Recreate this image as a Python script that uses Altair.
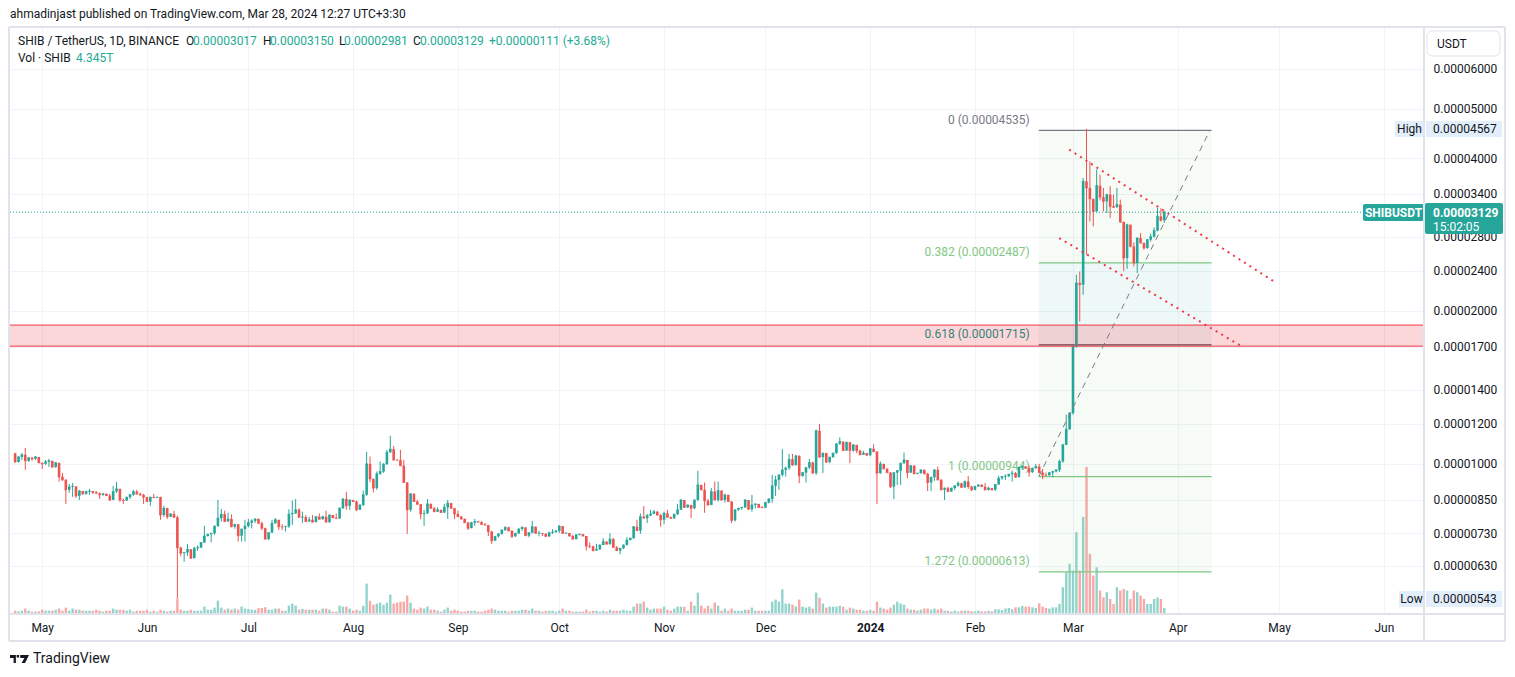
import altair as alt
import pandas as pd

# ---------------- data (prices in units of 1e-8 USDT, volume in T) ----------------
UNIT = 1e-8
START_DATE = "2023-04-23"
FIRST_OPEN = 1049

CLOSE = [
    1009, 1032, 1042, 1014, 1028, 1023, 1032, 1005, 1000, 1009,
    1014, 986, 1005, 943, 930, 889, 901, 903, 865, 884,
    873, 882, 884, 878, 875, 869, 873, 866, 849, 882,
    893, 849, 847, 860, 869, 882, 873, 869, 860, 843,
    860, 858, 860, 793, 818, 787, 797, 785, 684, 667,
    669, 679, 652, 682, 684, 700, 721, 727, 730, 754,
    782, 796, 770, 779, 752, 760, 722, 744, 754, 766,
    772, 779, 764, 747, 711, 732, 764, 776, 752, 751,
    753, 796, 799, 812, 785, 786, 770, 776, 768, 787,
    778, 787, 768, 793, 783, 781, 818, 853, 827, 849,
    843, 812, 830, 869, 1000, 934, 896, 956, 966, 999,
    1054, 1069, 1018, 1017, 992, 919, 812, 873, 843, 833,
    797, 799, 834, 818, 805, 812, 802, 821, 837, 818,
    797, 787, 779, 766, 747, 766, 770, 768, 760, 758,
    736, 706, 720, 728, 741, 750, 738, 720, 730, 744,
    750, 722, 732, 752, 730, 731, 729, 720, 732, 734,
    738, 754, 730, 731, 721, 711, 725, 727, 721, 689,
    688, 675, 679, 692, 703, 695, 711, 685, 675, 682,
    692, 708, 714, 752, 739, 787, 782, 791, 797, 805,
    793, 776, 799, 785, 781, 796, 812, 849, 821, 830,
    818, 849, 909, 889, 846, 830, 882, 849, 886, 849,
    869, 843, 774, 812, 818, 821, 849, 814, 830, 834,
    821, 820, 839, 853, 905, 930, 951, 973, 981, 1021,
    995, 1037, 947, 961, 983, 1006, 959, 1162, 1031, 1050,
    1008, 1031, 1050, 1095, 1106, 1062, 1103, 1062, 1090, 1062,
    1042, 1050, 1040, 1071, 1057, 959, 1000, 978, 961, 902,
    961, 970, 1003, 1018, 961, 992, 956, 959, 973, 956,
    919, 941, 973, 930, 889, 896, 882, 896, 905, 916,
    899, 923, 902, 889, 903, 909, 902, 889, 896, 889,
    911, 937, 944, 945, 954, 959, 941, 985, 988, 981,
    963, 981, 988, 961, 951, 950, 961, 966, 973, 1011,
    1090, 1170, 1259, 1704, 2271, 2253, 3599, 3494, 3323, 3140,
    3530, 3350, 3287, 3389, 3214, 3200, 3239, 2994, 2543, 2957,
    2680, 2487, 2784, 2722, 2661, 2763, 2800, 2878, 3071, 3017,
    3129,
]

HIGH = [
    1052, 1037, 1051, 1075, 1032, 1032, 1037, 1032, 1005, 1018,
    1023, 1014, 1009, 1005, 960, 934, 913, 917, 903, 889,
    884, 885, 893, 885, 884, 878, 877, 875, 873, 905,
    921, 893, 855, 861, 873, 889, 889, 878, 873, 862,
    861, 873, 861, 862, 827, 820, 799, 808, 790, 687,
    671, 695, 680, 687, 691, 702, 755, 728, 731, 756,
    849, 815, 809, 801, 796, 762, 762, 745, 776, 779,
    778, 781, 781, 770, 749, 734, 776, 782, 776, 761,
    755, 814, 847, 853, 818, 805, 793, 787, 793, 790,
    799, 790, 809, 795, 793, 799, 821, 855, 881, 851,
    847, 847, 832, 886, 1056, 1034, 936, 966, 1011, 1003,
    1066, 1136, 1085, 1021, 1066, 1018, 921, 875, 875, 849,
    830, 812, 853, 836, 823, 821, 812, 834, 849, 838,
    819, 809, 790, 781, 769, 769, 779, 771, 771, 765,
    758, 738, 721, 730, 743, 753, 752, 741, 731, 747,
    753, 750, 733, 772, 753, 738, 731, 729, 735, 744,
    740, 758, 755, 733, 731, 725, 727, 728, 728, 721,
    700, 690, 696, 694, 714, 704, 730, 715, 689, 683,
    694, 717, 716, 754, 776, 799, 826, 797, 812, 812,
    808, 797, 805, 812, 788, 797, 834, 853, 849, 832,
    830, 851, 969, 909, 919, 853, 896, 923, 923, 887,
    873, 869, 845, 814, 819, 823, 853, 849, 869, 836,
    834, 826, 842, 855, 951, 947, 953, 1069, 988, 1046,
    1046, 1042, 1040, 964, 986, 1023, 1011, 1167, 1199, 1051,
    1051, 1032, 1051, 1097, 1128, 1108, 1105, 1105, 1093, 1090,
    1066, 1061, 1051, 1073, 1093, 1059, 1011, 1000, 980, 964,
    963, 971, 1005, 1052, 1018, 993, 993, 960, 976, 975,
    960, 943, 976, 988, 934, 898, 902, 897, 907, 923,
    918, 927, 947, 905, 905, 911, 912, 917, 902, 897,
    912, 947, 945, 954, 956, 970, 964, 986, 995, 990,
    992, 982, 1000, 1000, 977, 961, 962, 968, 975, 1018,
    1095, 1249, 1262, 1710, 2357, 2392, 3655, 4567, 3941, 3330,
    3800, 3710, 3494, 3400, 3520, 3389, 3494, 3313, 3000, 2970,
    2957, 2729, 2790, 2848, 2730, 2770, 2840, 2920, 3188, 3188,
    3150,
]

LOW = [
    1005, 1005, 1018, 973, 1009, 1014, 1018, 1003, 977, 995,
    986, 982, 982, 922, 926, 834, 877, 861, 857, 849,
    869, 869, 869, 873, 873, 853, 865, 865, 845, 849,
    877, 842, 834, 845, 853, 865, 869, 865, 834, 842,
    827, 856, 856, 776, 787, 779, 786, 783, 543, 657,
    642, 659, 650, 652, 674, 683, 699, 719, 700, 725,
    752, 770, 768, 770, 750, 745, 703, 703, 703, 750,
    746, 765, 762, 741, 710, 708, 731, 762, 741, 741,
    736, 748, 758, 797, 784, 765, 769, 770, 767, 767,
    777, 777, 767, 765, 782, 780, 779, 815, 812, 812,
    842, 808, 812, 826, 865, 920, 878, 889, 951, 960,
    995, 1051, 1016, 1016, 990, 917, 728, 805, 842, 830,
    778, 755, 797, 815, 804, 804, 801, 800, 779, 815,
    779, 786, 777, 765, 741, 747, 755, 767, 758, 756,
    721, 696, 705, 716, 725, 738, 737, 714, 718, 727,
    738, 721, 717, 729, 729, 720, 721, 718, 718, 728,
    731, 731, 728, 728, 720, 710, 710, 723, 720, 675,
    682, 672, 674, 677, 692, 694, 693, 684, 674, 664,
    680, 691, 707, 712, 738, 728, 781, 765, 789, 797,
    791, 752, 761, 784, 780, 780, 793, 812, 819, 819,
    782, 815, 846, 887, 801, 828, 830, 847, 843, 847,
    839, 842, 764, 770, 808, 812, 819, 813, 805, 817,
    819, 818, 818, 836, 838, 865, 889, 945, 944, 973,
    991, 991, 916, 943, 919, 977, 956, 951, 1028, 959,
    1005, 1003, 1028, 1046, 1090, 1061, 1061, 1003, 1056, 1049,
    1040, 1042, 1037, 1035, 1056, 833, 956, 975, 960, 896,
    852, 909, 909, 1000, 937, 960, 954, 954, 956, 954,
    884, 884, 926, 928, 887, 849, 880, 882, 887, 902,
    897, 897, 893, 884, 887, 901, 901, 886, 886, 887,
    885, 909, 930, 930, 943, 923, 940, 941, 973, 977,
    944, 960, 977, 959, 933, 947, 947, 941, 962, 964,
    1005, 1090, 1167, 1249, 1693, 1906, 2153, 2581, 3000, 2935,
    3140, 3300, 3140, 3118, 3050, 3190, 3195, 2980, 2396, 2420,
    2670, 2448, 2375, 2715, 2640, 2650, 2740, 2790, 2870, 3000,
    2981,
]

VOLUME_T = [
    2.4, 1.9, 2.4, 3.9, 2.4, 1.7, 1.7, 1.9, 3.1, 2.4,
    2.4, 2.4, 3.1, 3.9, 2.4, 4.6, 2.4, 3.9, 3.1, 3.1,
    2.4, 2.4, 2.4, 2.4, 3.1, 2.4, 1.7, 2.4, 2.4, 3.9,
    3.1, 3.1, 3.1, 2.4, 3.1, 1.7, 2.4, 2.4, 2.4, 3.1,
    1.7, 2.4, 1.7, 3.1, 2.4, 1.7, 2.4, 2.4, 11.1, 3.1,
    2.4, 2.4, 3.1, 2.4, 2.4, 2.4, 5.3, 3.1, 3.1, 4.6,
    9.6, 4.6, 3.1, 3.9, 3.1, 3.9, 3.1, 5.3, 3.9, 3.6,
    3.1, 3.1, 4.3, 4.3, 4.8, 3.1, 3.1, 3.9, 3.9, 2.4,
    2.4, 6.0, 7.5, 6.0, 3.1, 3.6, 3.1, 3.1, 3.1, 3.1,
    2.4, 3.9, 3.9, 3.1, 1.7, 1.7, 6.0, 5.3, 5.3, 3.9,
    2.4, 3.1, 2.4, 6.0, 21.9, 9.6, 6.7, 7.5, 8.2, 6.7,
    8.2, 14.0, 7.5, 8.2, 8.9, 8.9, 13.3, 8.2, 3.9, 3.1,
    4.6, 3.9, 5.3, 3.1, 3.1, 2.4, 1.7, 3.1, 4.6, 2.4,
    3.1, 2.4, 1.7, 1.7, 2.4, 2.4, 2.4, 1.7, 1.7, 2.4,
    3.1, 3.9, 3.1, 2.4, 2.4, 2.4, 1.7, 2.4, 2.4, 2.4,
    3.1, 3.1, 2.4, 3.9, 2.4, 2.4, 1.7, 2.4, 2.4, 2.4,
    1.7, 2.4, 3.9, 2.4, 2.4, 1.7, 1.7, 1.7, 1.7, 3.1,
    1.7, 2.4, 2.4, 1.7, 2.4, 1.7, 3.1, 2.4, 2.4, 2.4,
    3.1, 2.4, 2.4, 5.3, 7.5, 7.5, 8.9, 4.6, 3.1, 3.9,
    3.9, 3.9, 5.3, 3.1, 2.4, 3.9, 5.3, 5.3, 5.3, 2.4,
    8.9, 6.0, 15.4, 6.0, 3.9, 6.0, 3.9, 8.2, 6.0, 2.4,
    3.9, 2.4, 3.9, 2.4, 2.4, 2.4, 3.1, 3.1, 4.6, 2.4,
    2.4, 2.4, 2.4, 2.4, 8.9, 10.4, 8.9, 17.8, 7.5, 7.5,
    6.7, 5.3, 10.4, 5.3, 4.6, 5.3, 3.9, 15.4, 11.8, 7.5,
    4.6, 5.3, 5.3, 5.3, 6.0, 5.3, 3.1, 4.6, 3.9, 3.1,
    3.1, 2.4, 2.4, 3.1, 2.4, 8.9, 4.6, 3.9, 3.1, 4.6,
    6.7, 8.9, 7.5, 6.7, 3.9, 3.1, 3.1, 2.4, 3.1, 3.9,
    3.9, 3.1, 3.9, 3.1, 3.9, 2.4, 2.4, 1.7, 2.4, 1.7,
    2.4, 2.4, 2.4, 1.9, 1.9, 2.4, 1.9, 1.9, 2.4, 1.9,
    3.4, 3.4, 2.9, 3.9, 4.3, 3.4, 4.8, 4.8, 5.8, 5.3,
    5.3, 4.8, 4.3, 7.7, 5.3, 4.3, 3.9, 4.8, 4.8, 7.2,
    19.3, 30.1, 36.2, 31.3, 59.0, 31.3, 69.9, 106.0, 43.4, 27.7,
    33.7, 16.9, 12.0, 15.7, 10.8, 7.2, 19.3, 16.9, 18.1, 16.9,
    10.8, 16.9, 15.7, 13.3, 10.8, 7.2, 7.2, 10.8, 12.0, 10.8,
    4.345,
]

PRICE_TICKS = [6000, 5000, 4000, 3400, 2800, 2400, 2000, 1700, 1400, 1200, 1000, 850, 730, 630]
MONTHS = [(2023, 5), (2023, 6), (2023, 7), (2023, 8), (2023, 9), (2023, 10), (2023, 11),
          (2023, 12), (2024, 1), (2024, 2), (2024, 3), (2024, 4), (2024, 5), (2024, 6)]

FIB_RATIOS = ["0", "0.382", "0.618", "1", "1.272"]
FIB_PRICES = [4535, 2487, 1715, 944, 613]
FIB_COLORS = ["#787b86", "#81c784", "#009688", "#81c784", "#81c784"]
FIB_LINE_COLORS = ["#787b86", "#81c784", "#434651", "#81c784", "#81c784"]
FIB_START = "2024-02-19T21:00:00Z"
FIB_END = "2024-04-11T00:00:00Z"
FIB_TREND_END = "2024-04-10T12:00:00Z"

ZONE_TOP, ZONE_BOTTOM = 1876, 1705
TRENDS = [
    {"x": "2024-02-28T21:00:00Z", "y": 4156, "x2": "2024-04-29T21:00:00Z", "y2": 2276},
    {"x": "2024-02-25T22:00:00Z", "y": 2784, "x2": "2024-04-19T12:00:00Z", "y2": 1710},
]
LAST_PRICE = 3129

# ---------------- styling ----------------
FONT = "Roboto"
DARK = "#131722"
UP, DOWN = "#26a69a", "#ef5350"
VUP, VDOWN = "#92d3cc", "#f7a9a7"
GRID = "#f0f3fa"
BORDER = "#e0e3eb"
W, H = 1414, 587
PMIN, PMAX = 506.3 * UNIT, 7246 * UNIT
VOL_MAX = 423

dates = pd.date_range(START_DATE, periods=len(CLOSE), freq="D")
opens = [FIRST_OPEN] + CLOSE[:-1]
rows = []
for d, o, h, l, c, v in zip(dates, opens, HIGH, LOW, CLOSE, VOLUME_T):
    up = c >= o
    rows.append({
        "date": d.strftime("%Y-%m-%d"),
        "open": o * UNIT, "close": c * UNIT,
        "high": max(h, o, c) * UNIT, "low": min(l, o, c) * UNIT,
        "vol": v, "ccol": UP if up else DOWN, "vcol": VUP if up else VDOWN,
    })
df = pd.DataFrame(rows)

XS = alt.Scale(type="utc", domain=[alt.DateTime(year=2023, month=4, date=22, hours=23, utc=True),
                                   alt.DateTime(year=2024, month=6, date=11, hours=9, utc=True)])
YS = alt.Scale(type="log", domain=[PMIN, PMAX], nice=False, zero=False)

is_jan = "utcFormat(datum.value, '%m') == '01'"
x_axis = alt.Axis(
    values=[alt.DateTime(year=y, month=m, date=1, utc=True) for y, m in MONTHS],
    labelExpr=f"{is_jan} ? utcFormat(datum.value, '%Y') : utcFormat(datum.value, '%b')",
    labelFontWeight={"condition": {"test": is_jan, "value": "bold"}, "value": "normal"},
    grid=True, gridColor=GRID, domain=False, ticks=False, labelPadding=8,
    labelFontSize=12, labelColor=DARK, labelFont=FONT, title=None, labelAngle=0,
    labelOverlap=False, labelFlush=False,
)
y_axis = alt.Axis(
    values=[t * UNIT for t in PRICE_TICKS], format=".8f", orient="right",
    grid=True, gridColor=GRID, domain=False, ticks=False, labelPadding=9,
    labelFontSize=12, labelColor=DARK, labelFont=FONT, title=None,
    labelOverlap=False, labelFlush=False,
)


def X(field):
    return alt.X(field, scale=XS, axis=x_axis)


def Y(field):
    return alt.Y(field, scale=YS, axis=y_axis)


def one(**kw):
    return alt.Data(values=[kw if kw else {"k": 1}])


def px_text(txt, x, y, color=DARK, size=12, weight="normal", align="left"):
    return alt.Chart(one(t=txt)).mark_text(
        align=align, baseline="middle", fontSize=size, fontWeight=weight, color=color, font=FONT
    ).encode(text="t:N", x=alt.value(x), y=alt.value(y))


def px_rect(x1, x2, y1, y2, fill, stroke=None, radius=0):
    kw = dict(color=fill, cornerRadius=radius)
    if stroke:
        kw.update(stroke=stroke, strokeWidth=1)
    return alt.Chart(one()).mark_rect(**kw).encode(
        x=alt.value(x1), x2=alt.value(x2), y=alt.value(y1), y2=alt.value(y2))


def px_rule(x1, y1, x2, y2, color=BORDER, width=2):
    return alt.Chart(one()).mark_rule(color=color, strokeWidth=width).encode(
        x=alt.value(x1), x2=alt.value(x2), y=alt.value(y1), y2=alt.value(y2))


# ---------------- volume ----------------
vol = alt.Chart(df).mark_bar(size=2.4).encode(
    x=X("date:T"),
    y=alt.Y("vol:Q", scale=alt.Scale(domain=[0, VOL_MAX], nice=False), axis=None),
    color=alt.Color("vcol:N", scale=None),
)

# ---------------- fib retracement ----------------
fib_bands = pd.DataFrame([
    {"x": FIB_START, "x2": FIB_END, "y": FIB_PRICES[i] * UNIT, "y2": FIB_PRICES[i + 1] * UNIT,
     "fill": FIB_COLORS[i + 1]}
    for i in range(len(FIB_PRICES) - 1)
])
fib_fill = alt.Chart(fib_bands).mark_rect(opacity=0.07).encode(
    x=X("x:T"), x2="x2:T", y=Y("y:Q"), y2="y2:Q", color=alt.Color("fill:N", scale=None))

fib_df = pd.DataFrame({
    "x": FIB_START, "x2": FIB_END,
    "y": [p * UNIT for p in FIB_PRICES],
    "col": FIB_COLORS,
    "lcol": FIB_LINE_COLORS,
    "label": [f"{r} ({p * UNIT:.8f})" for r, p in zip(FIB_RATIOS, FIB_PRICES)],
})
fib_lines = alt.Chart(fib_df).mark_rule(strokeWidth=1.2).encode(
    x=X("x:T"), x2="x2:T", y=Y("y:Q"), color=alt.Color("lcol:N", scale=None))
fib_labels = alt.Chart(fib_df).mark_text(align="right", baseline="middle", dx=-9, dy=-10.5,
                                         fontSize=12, font=FONT).encode(
    x=X("x:T"), y=Y("y:Q"), text="label:N", color=alt.Color("col:N", scale=None))
fib_trend = alt.Chart(pd.DataFrame([{"x": FIB_START, "y": FIB_PRICES[3] * UNIT,
                                     "x2": FIB_TREND_END, "y2": FIB_PRICES[0] * UNIT}])).mark_rule(
    color="#787b86", strokeWidth=1, strokeDash=[6, 5]).encode(
    x=X("x:T"), y=Y("y:Q"), x2="x2:T", y2="y2:Q")

# ---------------- candles ----------------
wick = alt.Chart(df).mark_rule(strokeWidth=1).encode(
    x=X("date:T"), y=Y("low:Q"), y2="high:Q", color=alt.Color("ccol:N", scale=None))
body = alt.Chart(df).mark_bar(size=2.6).encode(
    x=X("date:T"), y=Y("open:Q"), y2="close:Q", color=alt.Color("ccol:N", scale=None))
doji = alt.Chart(df).mark_tick(orient="horizontal", size=2.6, thickness=1).encode(
    x=X("date:T"), y=Y("close:Q"), color=alt.Color("ccol:N", scale=None))

# ---------------- zone, trend lines, price line ----------------
zone = alt.Chart(one(t=ZONE_TOP * UNIT, b=ZONE_BOTTOM * UNIT)).mark_rect(
    color="#f23645", opacity=0.2).encode(
    x=alt.value(0), x2=alt.value(W), y=Y("t:Q"), y2="b:Q")
zone_lines = alt.Chart(pd.DataFrame({"y": [ZONE_TOP * UNIT, ZONE_BOTTOM * UNIT]})).mark_rule(
    color="#f23645", strokeWidth=1).encode(y=Y("y:Q"))
trend_df = pd.DataFrame([{**t, "y": t["y"] * UNIT, "y2": t["y2"] * UNIT} for t in TRENDS])
trends = alt.Chart(trend_df).mark_rule(color="#f23645", strokeWidth=2, strokeDash=[2, 4.5]).encode(
    x=X("x:T"), y=Y("y:Q"), x2="x2:T", y2="y2:Q")
price_line = alt.Chart(one(p=LAST_PRICE * UNIT)).mark_rule(
    color=UP, strokeWidth=1, strokeDash=[1, 2]).encode(y=Y("p:Q"))

# ---------------- annotations ----------------
TEAL_TXT = "#22ab94"
ann = [
    px_text("ahmadinjast published on TradingView.com, Mar 28, 2024 12:27 UTC+3:30", 0, -13),
    px_text("SHIB / TetherUS, 1D, BINANCE", 8, 14),
    px_text("O", 176, 14), px_text("0.00003017", 183, 14, TEAL_TXT),
    px_text("H", 253, 14), px_text("0.00003150", 260, 14, TEAL_TXT),
    px_text("L", 329, 14), px_text("0.00002981", 334, 14, TEAL_TXT),
    px_text("C", 403, 14), px_text("0.00003129", 410, 14, TEAL_TXT),
    px_text("+0.00000111 (+3.68%)", 479, 14, TEAL_TXT),
    px_text("Vol · SHIB", 8, 31), px_text("4.345T", 66, 31, TEAL_TXT),
    # price scale header
    px_rect(1417, 1490, 4, 29, "#ffffff", stroke=BORDER, radius=5),
    px_text("USDT", 1427, 16.5),
    # high / low labels
    px_rect(1385, 1414, 94, 110, "#e3eefb"), px_text("High", 1399.5, 102, align="center"),
    px_rect(1416, 1492, 94, 110, "#e3eefb"), px_text("0.00004567", 1423, 102),
    px_rect(1389, 1414, 564, 580, "#e3eefb"), px_text("Low", 1401.5, 572, align="center"),
    px_rect(1416, 1492, 564, 580, "#e3eefb"), px_text("0.00000543", 1423, 572),
    # last price labels
    px_rect(1353, 1414, 177, 194, UP, radius=2),
    px_text("SHIBUSDT", 1383.5, 185.5, "#ffffff", 12, "bold", "center"),
    px_rect(1415, 1493, 176, 207, UP, radius=2),
    px_text("0.00003129", 1423, 185.5, "#ffffff", 12, "bold"),
    px_text("15:02:05", 1423, 199.5, "#ffffff", 12),
    # frame
    px_rule(-1, 0, 1495, 0), px_rule(-1, 587, 1495, 587), px_rule(-1, 614, 1495, 614),
    px_rule(-1, 0, -1, 614), px_rule(1495, 0, 1495, 614), px_rule(1414, 0, 1414, 614),
    # footer
    px_text("TradingView", 23, 632, DARK, 14),
]
logo = alt.Chart(one()).mark_point(
    shape="M-1,-0.42L-0.38,-0.42L-0.38,0.42L-0.62,0.42L-0.62,-0.1L-1,-0.1Z"
          "M-0.3,-0.42L-0.04,-0.42L-0.04,-0.16L-0.3,-0.16Z"
          "M0.08,-0.42L1,-0.42L0.58,0.42L0.22,0.42L0.52,-0.1L0.08,-0.1Z",
    filled=True, size=361, color=DARK, opacity=1).encode(x=alt.value(9.5), y=alt.value(632))

price_group = alt.layer(
    fib_fill, fib_labels, fib_lines, wick, body, doji, zone, zone_lines, fib_trend,
    trends, price_line, *ann, logo,
)

chart = alt.layer(vol, price_group).resolve_scale(y="independent").properties(
    width=W, height=H,
    autosize=alt.AutoSizeParams(type="none"),
    padding={"left": 2, "top": 19, "right": 83, "bottom": 54},
    background="#ffffff",
).configure_view(stroke=None)

chart.save("out.html", embed_options={"renderer": "svg", "actions": False})
